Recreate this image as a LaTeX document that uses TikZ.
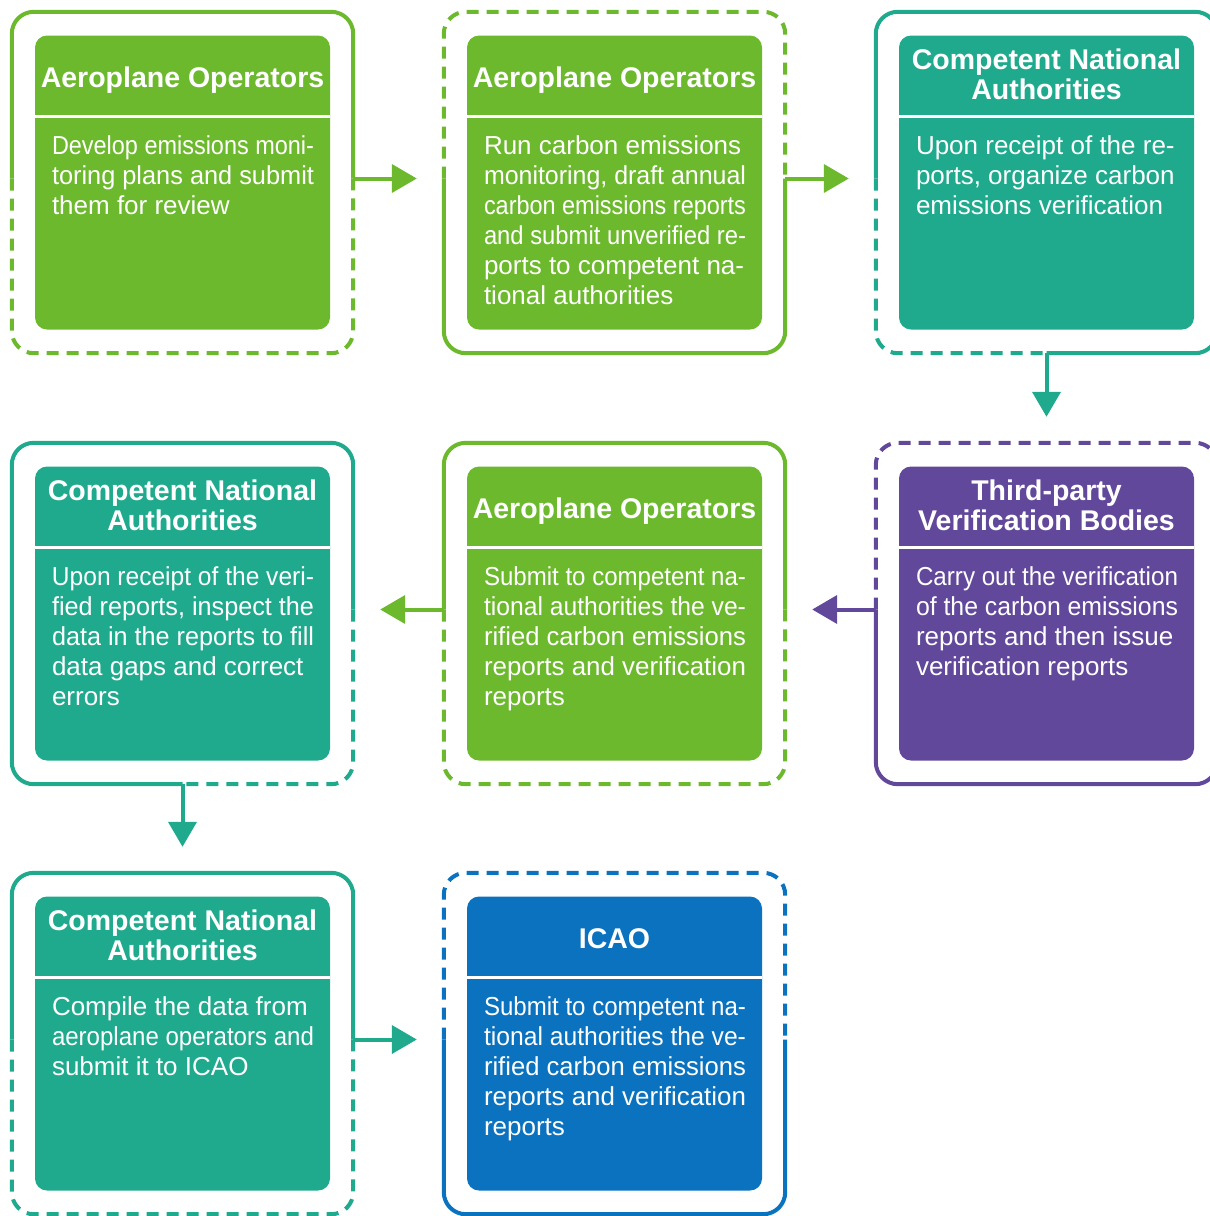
\documentclass[tikz,border=0pt]{standalone}
\usepackage{fontspec}
\setmainfont{Liberation Sans}
\usepackage{graphicx}
\usetikzlibrary{arrows.meta}
\definecolor{cgreen}{RGB}{109,185,45}
\definecolor{cteal}{RGB}{31,170,142}
\definecolor{cpurple}{RGB}{98,72,154}
\definecolor{cblue}{RGB}{10,114,190}
\newsavebox\flbox
\newlength\fitw
\setlength\fitw{262pt}
\newcommand\fl[1]{\sbox\flbox{#1}\ifdim\wd\flbox>\fitw\resizebox{\fitw}{\ht\flbox}{\usebox\flbox}\else\usebox\flbox\fi}
\begin{document}
\begin{tikzpicture}[x=1pt,y=-1pt,
  frame/.style={minimum width=341pt,minimum height=341pt,inner sep=0pt,draw=none},
  card/.style={rounded corners=12pt,minimum width=295pt,minimum height=294pt,inner sep=0pt,fill=#1},
  sol/.style={line width=4pt,rounded corners=22pt,draw=#1},
  dsh/.style={line width=4pt,rounded corners=22pt,draw=#1,dash pattern=on 12pt off 8pt},
  sepline/.style={white,line width=3.5pt},
  ttl/.style={text=white,font=\bfseries\fontsize{28.5}{30}\selectfont,align=center,inner sep=0pt},
  bdy/.style={text=white,font=\fontsize{26}{30}\selectfont,align=left,inner sep=0pt,anchor=north west},
  arr/.style={line width=4pt,draw=#1,-{Triangle[length=25pt,width=28pt,fill=#1]}}]
\useasboundingbox (0,0) rectangle (1210,1216);
\clip (0,0) rectangle (1210,1216);

% frames (invisible anchors)
\node[frame] (f1) at (182.5,182.5) {};
\node[frame] (f2) at (614.5,182.5) {};
\node[frame] (f3) at (1046.5,182.5) {};
\node[frame] (f4) at (1046.5,613.5) {};
\node[frame] (f5) at (614.5,613.5) {};
\node[frame] (f6) at (182.5,613.5) {};
\node[frame] (f7) at (182.5,1043.5) {};
\node[frame] (f8) at (614.5,1043.5) {};

% frame outlines
\draw[sol=cgreen] ([yshift=4pt]f1.west) -- (f1.north west) -- (f1.north east) -- ([yshift=4pt]f1.east);
\draw[dsh=cgreen] ([yshift=4pt]f1.west) -- (f1.south west) -- (f1.south east) -- ([yshift=4pt]f1.east);

\draw[dsh=cgreen] ([yshift=4pt]f2.west) -- (f2.north west) -- (f2.north east) -- ([yshift=4pt]f2.east);
\draw[sol=cgreen] ([yshift=4pt]f2.west) -- (f2.south west) -- (f2.south east) -- ([yshift=4pt]f2.east);

\draw[sol=cteal] ([yshift=4pt]f3.west) -- (f3.north west) -- (f3.north east) -- (f3.south east) -- (f3.south);
\draw[dsh=cteal] ([yshift=4pt]f3.west) -- (f3.south west) -- (f3.south);

\draw[dsh=cpurple] ([yshift=4pt]f4.west) -- (f4.north west) -- (f4.north east) -- ([yshift=4pt]f4.east);
\draw[sol=cpurple] ([yshift=4pt]f4.west) -- (f4.south west) -- (f4.south east) -- ([yshift=4pt]f4.east);

\draw[sol=cgreen] ([yshift=4pt]f5.west) -- (f5.north west) -- (f5.north east) -- ([yshift=4pt]f5.east);
\draw[dsh=cgreen] ([yshift=4pt]f5.west) -- (f5.south west) -- (f5.south east) -- ([yshift=4pt]f5.east);

\draw[sol=cteal] ([yshift=4pt]f6.east) -- (f6.north east) -- (f6.north west) -- (f6.south west) -- (f6.south);
\draw[dsh=cteal] ([yshift=4pt]f6.east) -- (f6.south east) -- (f6.south);

\draw[sol=cteal] ([yshift=4pt]f7.west) -- (f7.north west) -- (f7.north east) -- ([yshift=4pt]f7.east);
\draw[dsh=cteal] ([yshift=4pt]f7.west) -- (f7.south west) -- (f7.south east) -- ([yshift=4pt]f7.east);

\draw[dsh=cblue] ([yshift=4pt]f8.west) -- (f8.north west) -- (f8.north east) -- ([yshift=4pt]f8.east);
\draw[sol=cblue] ([yshift=4pt]f8.west) -- (f8.south west) -- (f8.south east) -- ([yshift=4pt]f8.east);

% cards
\node[card=cgreen] (b1) at (f1.center) {};
\node[card=cgreen] (b2) at (f2.center) {};
\node[card=cteal] (b3) at (f3.center) {};
\node[card=cpurple] (b4) at (f4.center) {};
\node[card=cgreen] (b5) at (f5.center) {};
\node[card=cteal] (b6) at (f6.center) {};
\node[card=cteal] (b7) at (f7.center) {};
\node[card=cblue] (b8) at (f8.center) {};

\foreach \b in {b1,b2,b3,b4,b5,b6,b7,b8}
  \draw[sepline] ([yshift=-81pt]\b.north west) -- ([yshift=-81pt]\b.north east);

% titles
\node[ttl,anchor=base] (t1) at ([yshift=-52pt]b1.north) {Aeroplane Operators};
\node[ttl,anchor=base] (t2) at ([yshift=-52pt]b2.north) {Aeroplane Operators};
\node[ttl] (t3) at ([yshift=-39.5pt]b3.north) {Competent National\\Authorities};
\node[ttl] (t4) at ([yshift=-39.5pt]b4.north) {Third-party\\Verification Bodies};
\node[ttl,anchor=base] (t5) at ([yshift=-52pt]b5.north) {Aeroplane Operators};
\node[ttl] (t6) at ([yshift=-39.5pt]b6.north) {Competent National\\Authorities};
\node[ttl] (t7) at ([yshift=-39.5pt]b7.north) {Competent National\\Authorities};
\node[ttl,anchor=base] (t8) at ([yshift=-52pt]b8.north) {ICAO};

% bodies
\node[bdy] (d1) at ([xshift=17pt,yshift=-100pt]b1.north west)
  {\fl{Develop emissions moni-}\\\fl{toring plans and submit}\\\fl{them for review}};
\node[bdy] (d2) at ([xshift=17pt,yshift=-100pt]b2.north west)
  {\fl{Run carbon emissions}\\\fl{monitoring, draft annual}\\\fl{carbon emissions reports}\\\fl{and submit unverified re-}\\\fl{ports to competent na-}\\\fl{tional authorities}};
\node[bdy] (d3) at ([xshift=17pt,yshift=-100pt]b3.north west)
  {\fl{Upon receipt of the re-}\\\fl{ports, organize carbon}\\\fl{emissions verification}};
\node[bdy] (d4) at ([xshift=17pt,yshift=-100pt]b4.north west)
  {\fl{Carry out the verification}\\\fl{of the carbon emissions}\\\fl{reports and then issue}\\\fl{verification reports}};
\node[bdy] (d5) at ([xshift=17pt,yshift=-100pt]b5.north west)
  {\fl{Submit to competent na-}\\\fl{tional authorities the ve-}\\\fl{rified carbon emissions}\\\fl{reports and verification}\\\fl{reports}};
\node[bdy] (d6) at ([xshift=17pt,yshift=-100pt]b6.north west)
  {\fl{Upon receipt of the veri-}\\\fl{fied reports, inspect the}\\\fl{data in the reports to fill}\\\fl{data gaps and correct}\\\fl{errors}};
\node[bdy] (d7) at ([xshift=17pt,yshift=-100pt]b7.north west)
  {\fl{Compile the data from}\\\fl{aeroplane operators and}\\\fl{submit it to ICAO}};
\node[bdy] (d8) at ([xshift=17pt,yshift=-100pt]b8.north west)
  {\fl{Submit to competent na-}\\\fl{tional authorities the ve-}\\\fl{rified carbon emissions}\\\fl{reports and verification}\\\fl{reports}};

% connectors
\draw[arr=cgreen] ([yshift=4pt]f1.east) -- ([yshift=4pt,xshift=-27pt]f2.west);
\draw[arr=cgreen] ([yshift=4pt]f2.east) -- ([yshift=4pt,xshift=-27pt]f3.west);
\draw[arr=cteal] (f3.south) -- ([yshift=26pt]f4.north);
\draw[arr=cpurple] ([yshift=4pt]f4.west) -- ([yshift=4pt,xshift=27pt]f5.east);
\draw[arr=cgreen] ([yshift=4pt]f5.west) -- ([yshift=4pt,xshift=27pt]f6.east);
\draw[arr=cteal] (f6.south) -- ([yshift=26pt]f7.north);
\draw[arr=cteal] ([yshift=4pt]f7.east) -- ([yshift=4pt,xshift=-27pt]f8.west);
\end{tikzpicture}
\end{document}
